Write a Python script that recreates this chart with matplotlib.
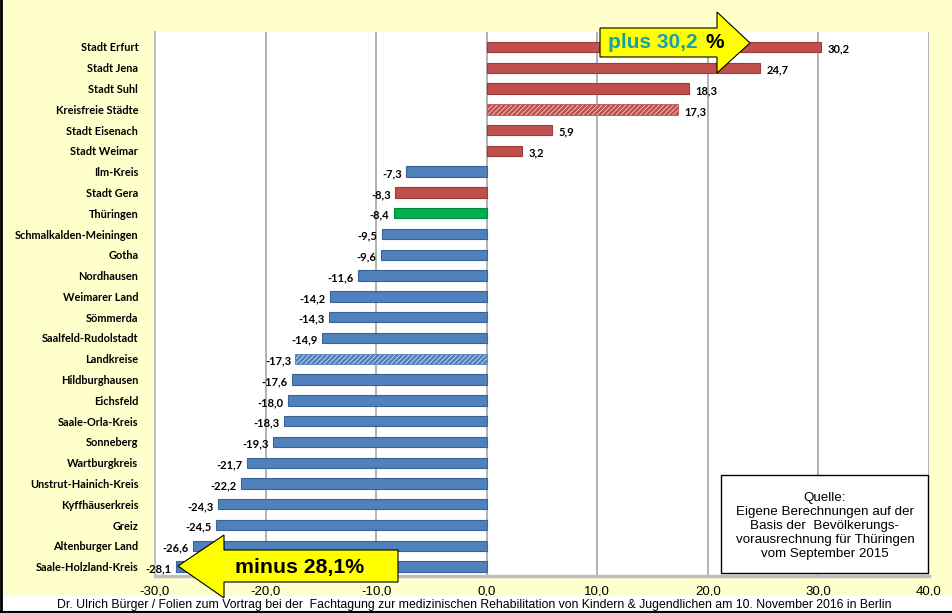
import matplotlib
matplotlib.use("Agg")
import matplotlib.pyplot as plt
from matplotlib.patches import Polygon, Rectangle
import numpy as np

categories = ["Stadt Erfurt", "Stadt Jena", "Stadt Suhl", "Kreisfreie Städte", "Stadt Eisenach",
              "Stadt Weimar", "Ilm-Kreis", "Stadt Gera", "Thüringen", "Schmalkalden-Meiningen",
              "Gotha", "Nordhausen", "Weimarer Land", "Sömmerda", "Saalfeld-Rudolstadt",
              "Landkreise", "Hildburghausen", "Eichsfeld", "Saale-Orla-Kreis", "Sonneberg",
              "Wartburgkreis", "Unstrut-Hainich-Kreis", "Kyffhäuserkreis", "Greiz",
              "Altenburger Land", "Saale-Holzland-Kreis"]
values = [30.2, 24.7, 18.3, 17.3, 5.9, 3.2, -7.3, -8.3, -8.4, -9.5, -9.6, -11.6, -14.2, -14.3,
          -14.9, -17.3, -17.6, -18.0, -18.3, -19.3, -21.7, -22.2, -24.3, -24.5, -26.6, -28.1]
groups = ["city", "city", "city", "city_total", "city", "city", "district", "city", "state",
          "district", "district", "district", "district", "district", "district", "district_total",
          "district", "district", "district", "district", "district", "district", "district",
          "district", "district", "district"]
xticks = [-30, -20, -10, 0, 10, 20, 30, 40]

RED = "#C0504D"
BLUE = "#4F81BD"
GREEN = "#00B050"
color_map = {"city": RED, "city_total": RED, "district": BLUE, "district_total": BLUE, "state": GREEN}
edge_map = {RED: "#9E3A37", BLUE: "#3A6396", GREEN: "#008A3E"}

plt.rcParams["hatch.linewidth"] = 2.0

W, H = 953, 613
fig = plt.figure(figsize=(W / 100, H / 100), dpi=100)
fig.patch.set_facecolor("#FFFFCC")

def fx(px):
    return px / W

def fy(py):
    return 1 - py / H

ax_left, ax_right, ax_top, ax_bottom = 155, 929, 32, 576
ax = fig.add_axes([fx(ax_left), fy(ax_bottom), fx(ax_right) - fx(ax_left), (ax_bottom - ax_top) / H])
ax.set_facecolor("white")

y = np.arange(len(categories))
for yi, v, g in zip(y, values, groups):
    c = color_map[g]
    if g.endswith("total"):
        ax.barh(yi, v, height=0.5, color="white", edgecolor=c, hatch="///////", linewidth=0.6, zorder=3)
    else:
        ax.barh(yi, v, height=0.5, color=c, edgecolor=edge_map[c], linewidth=0.8, zorder=3)
    lbl = f"{v:.1f}".replace(".", ",")
    if v >= 0:
        ax.text(v + 0.6, yi + 0.1, lbl, ha="left", va="center", fontsize=8,
                fontweight="bold", family="Lato", zorder=5)
    else:
        ax.text(v - 0.4, yi + 0.1, lbl, ha="right", va="center", fontsize=8,
                fontweight="bold", family="Lato", zorder=5)

ax.set_xlim(-30, 40)
ax.set_ylim(25.45, -0.72)
ax.set_xticks(xticks)
ax.set_xticklabels([f"{t:.1f}".replace(".", ",") for t in xticks], fontsize=9.5, family="Liberation Sans")
ax.set_yticks(y)
ax.set_yticklabels(categories, fontsize=7.9, fontweight="bold", family="Lato")
ax.tick_params(axis="y", length=0, pad=12)
ax.tick_params(axis="x", length=0, pad=7)
ax.grid(axis="x", color="#A6A6A6", linewidth=1.2, zorder=0)
for s in ["top", "right"]:
    ax.spines[s].set_visible(False)
ax.spines["left"].set_color("#BFBFBF")
ax.spines["left"].set_linewidth(1.5)
ax.spines["bottom"].set_color("#BFBFBF")
ax.spines["bottom"].set_linewidth(2.5)

# footer strip
fig.patches.append(Rectangle((0, 0), 1, 17 / H, transform=fig.transFigure, facecolor="white",
                             edgecolor="none", zorder=1))
fig.text(0.498, fy(605), "Dr. Ulrich Bürger / Folien zum Vortrag bei der  Fachtagung zur medizinischen "
         "Rehabilitation von Kindern & Jugendlichen am 10. November 2016 in Berlin",
         ha="center", va="center", fontsize=8.8, family="Liberation Sans", zorder=3)
fig.lines.append(plt.Line2D([0, 1], [fy(611.5), fy(611.5)], transform=fig.transFigure, color="black", lw=1.5))
fig.lines.append(plt.Line2D([fx(1), fx(1)], [fy(611.5), 1], transform=fig.transFigure, color="black", lw=2))

# right arrow
def poly(pts):
    return Polygon([(fx(a), fy(b)) for a, b in pts], closed=True, transform=fig.transFigure,
                   facecolor="#FFFF00", edgecolor="black", linewidth=0.8, zorder=6)

fig.patches.append(poly([(600, 28), (717, 28), (717, 12), (750, 43), (717, 73), (717, 57), (600, 57)]))
fig.text(fx(608), fy(43), "plus 30,2", ha="left", va="center", fontsize=15, fontweight="bold",
         family="Liberation Sans", color="#17A2A2", zorder=7)
fig.text(fx(706), fy(43), "%", ha="left", va="center", fontsize=15, fontweight="bold",
         family="Liberation Sans", color="black", zorder=7)

# left arrow
fig.patches.append(poly([(178, 566), (224, 535), (224, 550), (398, 550), (398, 582), (224, 582), (224, 598)]))
fig.text(fx(300), fy(567), "minus 28,1%", ha="center", va="center", fontsize=15.3, fontweight="bold",
         family="Liberation Sans", color="black", zorder=7)

# source box
fig.patches.append(Rectangle((fx(721), fy(573)), fx(928) - fx(721), (573 - 475) / H, transform=fig.transFigure,
                             facecolor="white", edgecolor="black", linewidth=1, zorder=6))
fig.text(fx(825), fy(526), "Quelle:\nEigene Berechnungen auf der\nBasis der  Bevölkerungs-\n"
         "vorausrechnung für Thüringen\nvom September 2015", ha="center", va="center",
         fontsize=9.6, family="Liberation Sans", linespacing=1.2, zorder=7)

fig.savefig("out.png", dpi=100, facecolor=fig.get_facecolor())
